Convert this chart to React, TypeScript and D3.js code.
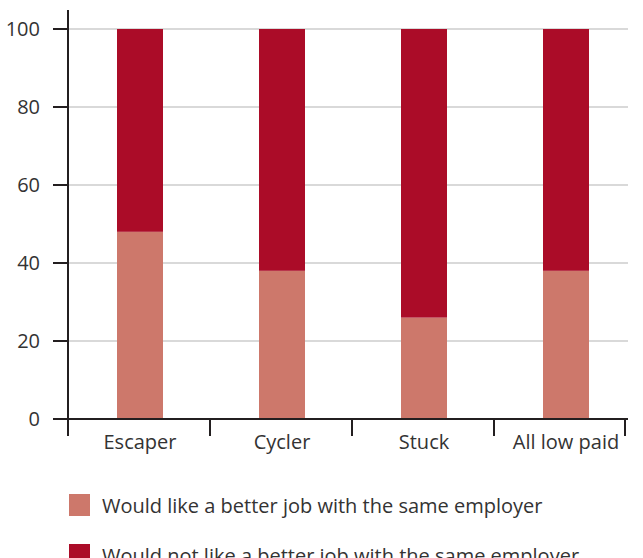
import React from "react";
import * as d3 from "d3";

const categories = ["Escaper", "Cycler", "Stuck", "All low paid"];
const wouldLike = [48, 38, 26, 38];
const wouldNotLike = [52, 62, 74, 62];
const seriesNames = [
  "Would like a better job with the same employer",
  "Would not like a better job with the same employer",
];
const seriesColors = ["#cd786b", "#ab0c28"];
const yTicks = [0, 20, 40, 60, 80, 100];

export default function App() {
  const W = 643, H = 558;
  const left = 68, top = 29, bottom = 419;
  const x = d3.scaleBand<string>().domain(categories).range([left, left + 568]).paddingInner(0).paddingOuter(0);
  const y = d3.scaleLinear().domain([0, 100]).range([bottom, top]);
  const barW = 46;
  const gridEnd = 628;
  const font = "'Open Sans', sans-serif";
  const fs = 20;
  const stacked = categories.map((c, i) => ({ c, a: wouldLike[i], b: wouldNotLike[i] }));
  const tickXs = [...categories.map((c) => x(c)!), 625];
  return (
    <svg width={W} height={H} style={{ position: "absolute", left: 0, top: 0 }} fontFamily={font}>
      {yTicks.map((t) => (
        <g key={t}>
          {t > 0 && <line x1={left} x2={gridEnd} y1={y(t)} y2={y(t)} stroke="#d9d9d9" strokeWidth={2} />}
          <line x1={53} x2={left} y1={y(t)} y2={y(t)} stroke="#231f20" strokeWidth={2} />
          <text x={40} y={y(t)} dy="0.36em" textAnchor="end" fontSize={fs} fill="#333">{t}</text>
        </g>
      ))}
      {stacked.map((d) => {
        const cx = x(d.c)! + x.bandwidth() / 2 + 1;
        return (
          <g key={d.c}>
            <rect x={cx - barW / 2} width={barW} y={y(d.a)} height={y(0) - y(d.a)} fill={seriesColors[0]} />
            <rect x={cx - barW / 2} width={barW} y={y(d.a + d.b)} height={y(d.a) - y(d.a + d.b)} fill={seriesColors[1]} />
            <text x={cx} y={449} textAnchor="middle" fontSize={fs} fill="#333">{d.c}</text>
          </g>
        );
      })}
      <line x1={left} x2={left} y1={10} y2={bottom} stroke="#231f20" strokeWidth={2} />
      <line x1={53} x2={gridEnd} y1={bottom} y2={bottom} stroke="#231f20" strokeWidth={2} />
      {tickXs.map((tx, i) => (
        <line key={i} x1={tx} x2={tx} y1={bottom} y2={436} stroke="#231f20" strokeWidth={2} />
      ))}
      {seriesNames.map((s, i) => (
        <g key={s} transform={`translate(69, ${494 + i * 50})`}>
          <rect width={21} height={22} fill={seriesColors[i]} />
          <text x={33} y={11} dy="0.38em" fontSize={fs} fill="#333">{s}</text>
        </g>
      ))}
    </svg>
  );
}
